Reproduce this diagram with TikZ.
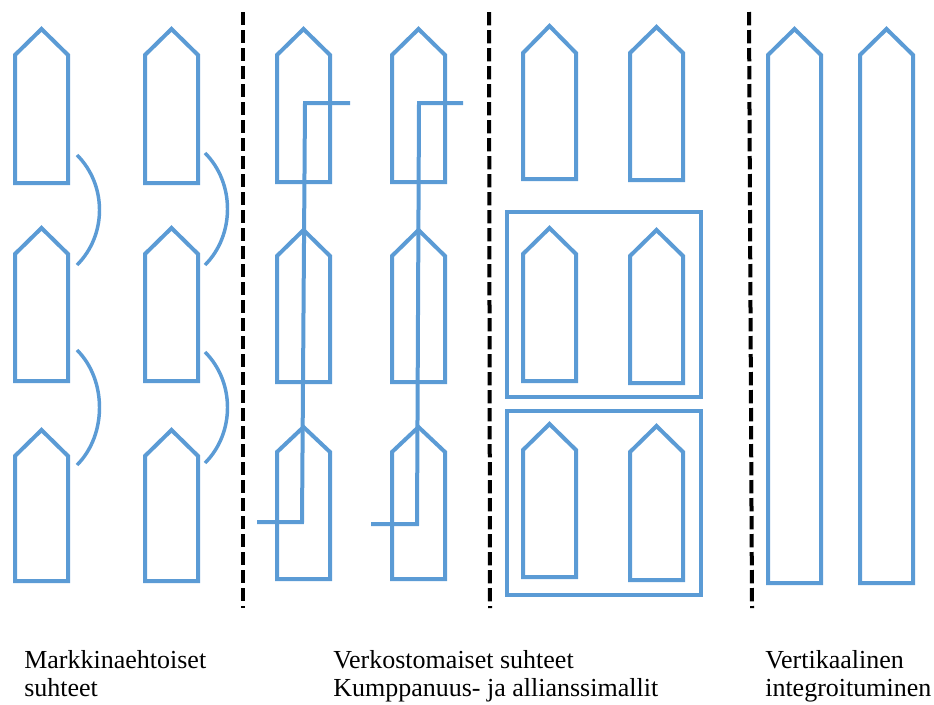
\documentclass[tikz,border=0pt]{standalone}
\usepackage{fontspec}
\setmainfont{Liberation Serif}
\definecolor{boatblue}{HTML}{5B9BD5}
\tikzset{
  boatline/.style={draw=boatblue, line width=3pt, line join=miter},
  linkline/.style={draw=boatblue, line width=2.6pt},
  divider/.style={draw=black, line width=3pt, dash pattern=on 10pt off 3.5pt},
  caption/.style={anchor=base west, inner sep=0pt, font=\fontsize{19.5}{21}\selectfont}
}
\newcommand\boatshape[5]{\draw[boatline] (#1,#5) -- (#1,#4) -- ({(#1+#2)/2},#3) -- (#2,#4) -- (#2,#5) -- cycle;}
\begin{document}
\begin{tikzpicture}[x=0.75pt,y=-0.75pt]
\useasboundingbox (0,0) rectangle (934,704);
% column 1 and 2: market relations
\foreach \t/\s/\b in {29/55/183,228/254/381,430/456/581}{
  \boatshape{15}{68}{\t}{\s}{\b}
  \boatshape{145}{198}{\t}{\s}{\b}
}
\draw[linkline] (77,155) .. controls (107,185) and (107,235) .. (77,265);
\draw[linkline] (77,350) .. controls (107,380) and (107,435) .. (77,465);
\draw[linkline] (205,153) .. controls (235,183) and (235,235) .. (205,265);
\draw[linkline] (205,352) .. controls (235,382) and (235,433) .. (205,463);
% columns 3 and 4: network relations
\foreach \t/\s/\b in {29/55/182,230/256/382,427/452/579}{
  \boatshape{277}{330}{\t}{\s}{\b}
  \boatshape{392}{445}{\t}{\s}{\b}
}
\draw[boatline] (350,103) -- (305,103) -- (302,522) -- (257,522);
\draw[boatline] (463,103) -- (419,103) -- (417,524) -- (371,524);
% columns 5 and 6: partnerships
\boatshape{523}{576}{26}{53}{179}
\boatshape{630}{683}{27}{53}{180}
\boatshape{523}{576}{228}{254}{381}
\boatshape{630}{683}{230}{256}{383}
\boatshape{523}{576}{424}{450}{577}
\boatshape{630}{683}{426}{452}{580}
\draw[boatline] (507,212) rectangle (701,397);
\draw[boatline] (507,411) rectangle (701,595);
% column 7: vertical integration
\boatshape{768}{821}{29}{55}{583}
\boatshape{860}{913}{29}{55}{583}
% dividers
\coordinate (d1a) at (243,12); \coordinate (d1b) at (243,608);
\coordinate (d2a) at (489,12); \coordinate (d2b) at (490,608);
\coordinate (d3a) at (749,12); \coordinate (d3b) at (752,608);
\draw[divider] (d1a) -- (d1b);
\draw[divider] (d2a) -- (d2b);
\draw[divider] (d3a) -- (d3b);
% captions
\node[caption] (c1a) at (24,668) {Markkinaehtoiset};
\node[caption] (c1b) at (24,696) {suhteet};
\node[caption] (c2a) at (333,668) {Verkostomaiset suhteet};
\node[caption] (c2b) at (333,696) {Kumppanuus- ja allianssimallit};
\node[caption] (c3a) at (765,668) {Vertikaalinen};
\node[caption] (c3b) at (765,696) {integroituminen};
\end{tikzpicture}
\end{document}
